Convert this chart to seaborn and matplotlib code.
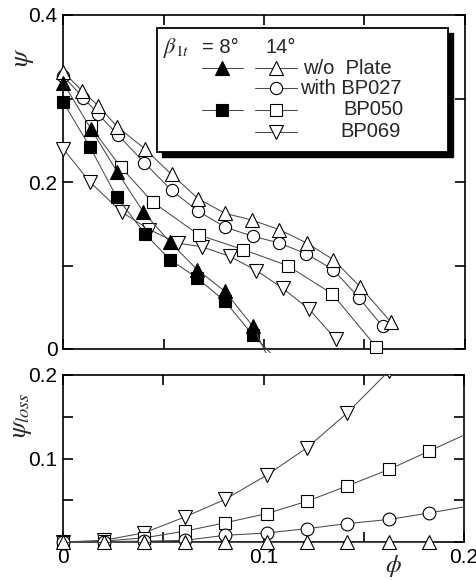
import numpy as np
import pandas as pd
import matplotlib
matplotlib.use("Agg")
import matplotlib.pyplot as plt
from matplotlib.lines import Line2D
from matplotlib.patches import Rectangle
from matplotlib.transforms import Bbox, TransformedBbox
import seaborn as sns

# ---------------- data ----------------
# upper panel: psi vs phi
phi_8_wo = [0.0, 0.0138, 0.0270, 0.0400, 0.0532, 0.0668, 0.0806, 0.0944, 0.1041]
psi_8_wo = [0.319, 0.264, 0.212, 0.164, 0.128, 0.095, 0.069, 0.0275, -0.020]
phi_8_bp050 = [0.0, 0.0134, 0.0267, 0.0408, 0.0532, 0.0668, 0.0806, 0.0944, 0.1094]
psi_8_bp050 = [0.296, 0.242, 0.182, 0.138, 0.107, 0.085, 0.057, 0.017, -0.020]
phi_14_wo = [0.0, 0.0096, 0.0176, 0.0271, 0.0408, 0.0540, 0.0673, 0.0806, 0.0939,
             0.1076, 0.1212, 0.1345, 0.1478, 0.1630]
psi_14_wo = [0.332, 0.309, 0.291, 0.266, 0.2395, 0.209, 0.180, 0.1625, 0.1545,
             0.143, 0.127, 0.107, 0.0746, 0.0327]
phi_14_bp027 = [0.0, 0.0101, 0.0176, 0.0275, 0.0405, 0.0540, 0.0673, 0.0806, 0.0944,
                0.1076, 0.1209, 0.1345, 0.1474, 0.1590]
psi_14_bp027 = [0.327, 0.301, 0.281, 0.256, 0.223, 0.190, 0.165, 0.146, 0.135,
                0.127, 0.114, 0.095, 0.061, 0.027]
phi_14_bp050 = [0.0137, 0.0287, 0.0446, 0.0677, 0.0897, 0.1118, 0.1340, 0.1557]
psi_14_bp050 = [0.2665, 0.218, 0.176, 0.1365, 0.119, 0.0998, 0.0659, 0.0028]
phi_14_bp069 = [0.0, 0.0134, 0.0292, 0.0429, 0.0574, 0.0690, 0.0829, 0.0962,
                0.1093, 0.1225, 0.1358]
psi_14_bp069 = [0.240, 0.200, 0.164, 0.143, 0.1266, 0.1225, 0.111, 0.094,
                0.0727, 0.0475, 0.0116]

# lower panel: psi_loss vs phi
phi_loss = [0.0, 0.0202, 0.0405, 0.0608, 0.0808, 0.1016, 0.1218, 0.1415, 0.1626, 0.1827, 0.206]
loss_wo = [0.0, 0.0, 0.0, 0.0, 0.0, 0.0, 0.0, 0.0, 0.0, 0.0]
loss_bp027 = [0.0, 0.0005, 0.001, 0.002, 0.008, 0.0108, 0.016, 0.022, 0.027, 0.0348, 0.0445]
loss_bp050 = [0.0, 0.001, 0.005, 0.013, 0.023, 0.034, 0.0489, 0.0669, 0.0869, 0.109, 0.1346]
loss_bp069 = [0.0, 0.002, 0.011, 0.030, 0.051, 0.080, 0.113, 0.154, 0.205, 0.26, 0.32]

legend_labels = ["w/o  Plate", "with BP027", "BP050", "BP069"]

# ---------------- style ----------------
sns.set_style("ticks")
plt.rcParams["font.family"] = ["Liberation Sans", "DejaVu Sans"]
plt.rcParams["mathtext.fontset"] = "stix"

LC = "#4a4a4a"
LW = 0.75

fig = plt.figure(figsize=(4.77, 5.80), dpi=100)
ax1 = fig.add_axes([63 / 477, 1 - 349 / 580, 402 / 477, 334 / 580])
ax2 = fig.add_axes([63 / 477, 1 - 542 / 580, 401 / 477, 167 / 580])


def draw(ax, x, y, marker, face, ms, z, clip):
    df = pd.DataFrame({"phi": x, "val": y})
    sns.lineplot(data=df, x="phi", y="val", ax=ax, estimator=None, sort=False,
                 color=LC, linewidth=LW, marker=marker, markersize=ms,
                 markerfacecolor=face, markeredgecolor="k", markeredgewidth=0.8,
                 zorder=z)
    line = ax.lines[-1]
    line.set_clip_box(TransformedBbox(Bbox(clip), ax.transAxes))


clip1 = [[-0.1, -0.012], [1.0, 1.0]]
draw(ax1, phi_14_bp069, psi_14_bp069, "v", "white", 9.4, 3, clip1)
draw(ax1, phi_14_bp050, psi_14_bp050, "s", "white", 8.2, 4, clip1)
draw(ax1, phi_14_bp027, psi_14_bp027, "o", "white", 8.8, 5, clip1)
draw(ax1, phi_14_wo, psi_14_wo, "^", "white", 9.4, 6, clip1)
draw(ax1, phi_8_bp050, psi_8_bp050, "s", "black", 8.2, 7, clip1)
draw(ax1, phi_8_wo, psi_8_wo, "^", "black", 9.4, 8, clip1)

clip2 = [[-0.1, -0.1], [1.0, 1.0]]
draw(ax2, phi_loss[:len(loss_wo)], loss_wo, "^", "white", 9.6, 6, clip2)
draw(ax2, phi_loss, loss_bp027, "o", "white", 9.2, 5, clip2)
draw(ax2, phi_loss, loss_bp050, "s", "white", 8.8, 4, clip2)
draw(ax2, phi_loss, loss_bp069, "v", "white", 10.0, 3, clip2)

# ---------------- axes ----------------
for ax in (ax1, ax2):
    ax.set_xlim(0, 0.2)
    for s in ax.spines.values():
        s.set_visible(True)
        s.set_linewidth(1.2)
        s.set_color("black")
        s.set_zorder(2.5)
    ax.tick_params(direction="in", top=True, right=True, length=7.2, width=1.2,
                   labelsize=15, pad=4, colors="black")
    ax.set_xlabel("")
    ax.set_ylabel("")

ax1.set_ylim(0, 0.4)
ax1.set_xticks([0, 0.05, 0.1, 0.15, 0.2], [""] * 5)
ax1.set_yticks([0, 0.1, 0.2, 0.3, 0.4], ["0", "", "0.2", "", "0.4"])

ax2.set_ylim(0, 0.2)
ax2.set_xticks([0, 0.05, 0.1, 0.15, 0.2], ["0", "", "0.1", "", "0.2"])
ax2.set_yticks([0, 0.05, 0.1, 0.15, 0.2], ["", "", "0.1", "", "0.2"])

ax1.set_ylabel(r"$\psi$", fontsize=19)
ax1.yaxis.set_label_coords(-0.068, 0.873)
ax2.set_ylabel(r"$\psi_{loss}$", fontsize=19)
ax2.yaxis.set_label_coords(-0.073, 0.76)
ax2.set_xlabel(r"$\phi$", fontsize=18)
ax2.xaxis.set_label_coords(0.823, -0.068)

# ---------------- legend box (manual, in axes fractions) ----------------
T = ax1.transAxes
bx0, by0, bw, bh = 0.2338, 0.590, 0.7239, 0.371
ax1.add_patch(Rectangle((bx0 + 0.0124, by0 - 0.015), bw, bh, transform=T,
                        facecolor="black", edgecolor="black", lw=1.0, zorder=20, clip_on=False))
ax1.add_patch(Rectangle((bx0, by0), bw, bh, transform=T, facecolor="white",
                        edgecolor="black", lw=1.3, zorder=21, clip_on=False))

ax1.text(0.2488, 0.886, r"$\beta_{1t}$", transform=T, fontsize=16, va="baseline",
         ha="left", zorder=22)
ax1.text(0.345, 0.886, "= 8°", transform=T, fontsize=14.5, va="baseline", ha="left", zorder=22)
ax1.text(0.5025, 0.886, "14°", transform=T, fontsize=14.5, va="baseline", ha="left", zorder=22)

rows_y = [0.8404, 0.7805, 0.7156, 0.6506]
col8 = (0.345, 0.4478)
col14 = (0.4776, 0.5813)
handles = [
    (col8, 0, "^", "black", 9.4),
    (col14, 0, "^", "white", 9.4),
    (col14, 1, "o", "white", 8.8),
    (col8, 2, "s", "black", 8.2),
    (col14, 2, "s", "white", 8.2),
    (col14, 3, "v", "white", 9.4),
]
for (x0, x1), r, m, fc, ms in handles:
    y = rows_y[r]
    ax1.add_line(Line2D([x0, x1], [y, y], transform=T, color=LC, lw=LW, zorder=22,
                        clip_on=False))
    ax1.add_line(Line2D([(x0 + x1) / 2], [y], transform=T, marker=m, markersize=ms,
                        markerfacecolor=fc, markeredgecolor="k", markeredgewidth=0.8,
                        linestyle="none", zorder=23, clip_on=False))

text_x = [0.5963, 0.5896, 0.6965, 0.6908]
for lbl, tx, ty in zip(legend_labels, text_x, rows_y):
    ax1.text(tx, ty, lbl, transform=T, fontsize=14.5, va="center", ha="left", zorder=22)

fig.savefig("out.png", dpi=100)
